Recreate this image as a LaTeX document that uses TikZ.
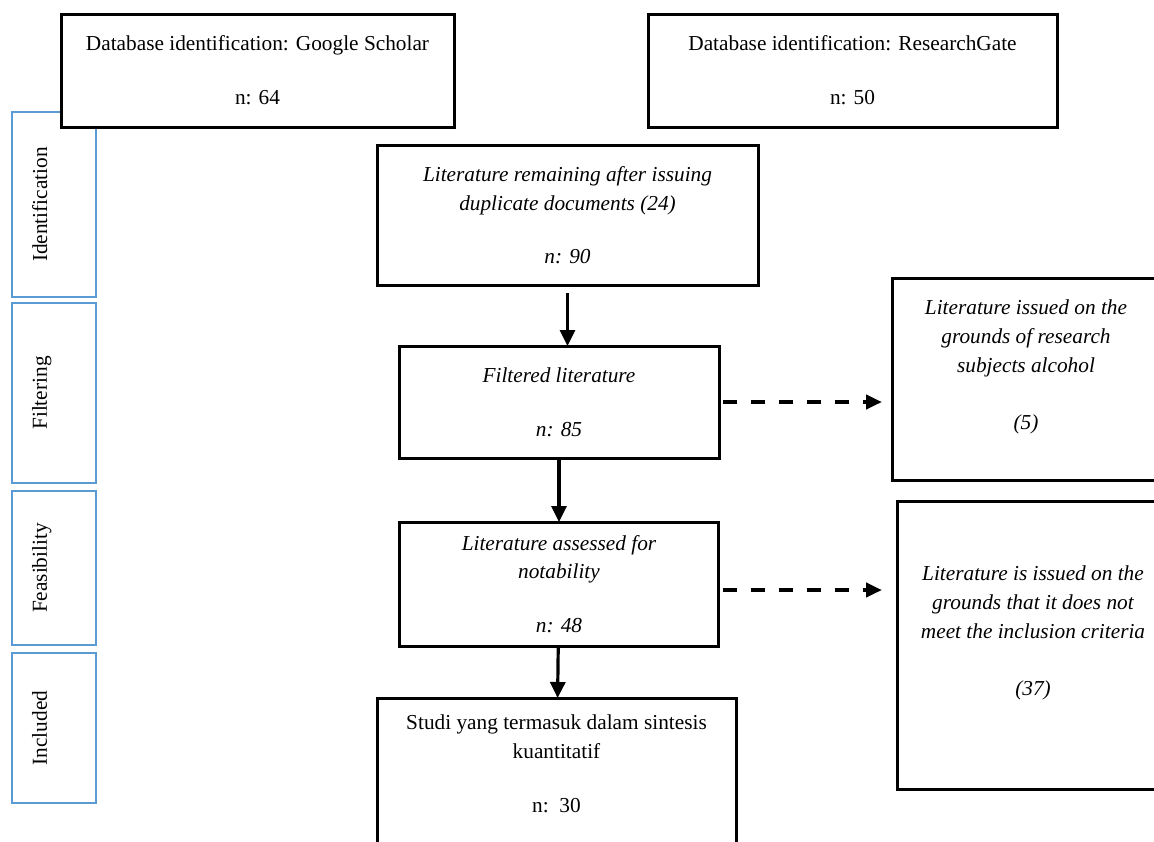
\documentclass[tikz,border=0pt]{standalone}
\usepackage{fontspec}
\setmainfont{Liberation Serif}
\usepackage{tikz}
\usetikzlibrary{arrows.meta, positioning}
\definecolor{stageblue}{HTML}{5B9BD5}

\begin{document}
\begin{tikzpicture}[
    x=1pt, y=-1pt,
    font=\fontsize{21.3}{28.8}\selectfont,
    box/.style={rectangle, draw=black, line width=3pt, fill=white, align=center,
                inner sep=0pt, outer sep=0pt},
    stage/.style={rectangle, draw=stageblue, line width=2.8pt, fill=white, rotate=90,
                  align=center, minimum height=84pt, inner sep=0pt},
    e/.style={-{Triangle[length=16pt, width=15pt]}, line width=3.2pt},
    de/.style={-{Triangle[length=16pt, width=14pt]}, line width=4pt, dash pattern=on 14pt off 14pt}
]
\useasboundingbox (0,0) rectangle (1154,841);
\clip (0,0) rectangle (1154,841);

\node[stage, minimum width=185pt] (sident) at (54,204.5) {Identification\\~};
\node[stage, minimum width=180pt] (sfilt)  at (54,393)   {Filtering\\~};
\node[stage, minimum width=154pt] (sfeas)  at (54,568)   {Feasibility\\~};
\node[stage, minimum width=150pt] (sincl)  at (54,728)   {Included\\~};

\node[box, minimum width=393pt, minimum height=113pt] (google) at (257.5,70.5)
    {Database identification: Google Scholar\\[25pt] n: 64};
\node[box, minimum width=409pt, minimum height=113pt, right=194pt of google] (rgate)
    {Database identification: ResearchGate\\[25pt] n: 50};
\node[box, minimum width=381pt, minimum height=140pt, font=\fontsize{21.3}{28.8}\selectfont\itshape] (dedup) at (567.5,215)
    {Literature remaining after issuing\\ duplicate documents (24)\\[24pt] n: 90};
\node[box, minimum width=320pt, minimum height=112pt, font=\fontsize{21.3}{28.8}\selectfont\itshape] (screened) at (559,402)
    {Filtered literature\\[25pt] n: 85};
\node[box, minimum width=319pt, minimum height=124pt, font=\fontsize{21.3}{28.8}\selectfont\itshape, below=64pt of screened] (eligible)
    {Literature assessed for\\ notability\\[25pt] n: 48};
\node[box, minimum width=359pt, minimum height=182pt, below=52pt of eligible, xshift=-2.5pt] (included)
    {Studi yang termasuk dalam sintesis\\ kuantitatif\\[25pt] n:\ \ 30\\[22pt]~};
\node[box, minimum width=268pt, minimum height=202pt, font=\fontsize{21.3}{28.8}\selectfont\itshape] (exsubj) at (1026,379)
    {Literature issued on the\\ grounds of research\\ subjects alcohol\\[28pt] (5)\\~};
\node[box, minimum width=272pt, minimum height=288pt, font=\fontsize{21.3}{28.8}\selectfont\itshape] (excrit) at (1033,645)
    {Literature is issued on the\\ grounds that it does not\\ meet the inclusion criteria\\[28pt] (37)\\~};

\draw[e, shorten <=8pt] (dedup.south) -- (dedup.south |- screened.north);
\draw[e] (screened) -- (eligible);
\draw[e] (eligible) -- (included);
\draw[de, shorten <=4pt, shorten >=10pt] (screened.east) -- (screened.east -| exsubj.west);
\draw[de, shorten <=4pt, shorten >=15pt] ([yshift=-6pt]eligible.east) -- ([yshift=-6pt]eligible.east -| excrit.west);
\end{tikzpicture}
\end{document}
